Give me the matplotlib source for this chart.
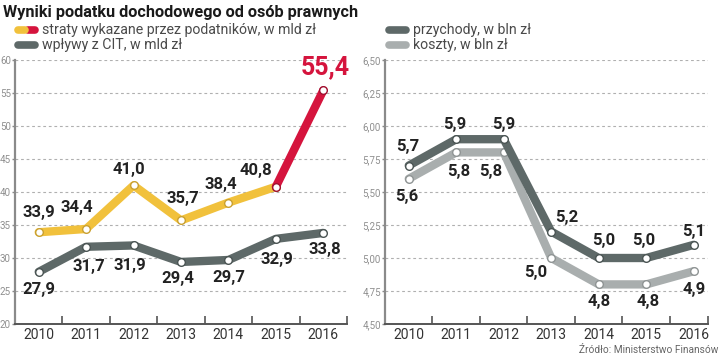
import numpy as np
import matplotlib.pyplot as plt
from matplotlib.lines import Line2D

years = [2010, 2011, 2012, 2013, 2014, 2015, 2016]
straty = [33.9, 34.4, 41.0, 35.7, 38.4, 40.8, 55.4]
wplywy = [27.9, 31.7, 31.9, 29.4, 29.7, 32.9, 33.8]
przychody = [5.7, 5.9, 5.9, 5.2, 5.0, 5.0, 5.1]
koszty = [5.6, 5.8, 5.8, 5.0, 4.8, 4.8, 4.9]

left_ticks = [20, 25, 30, 35, 40, 45, 50, 55, 60]
right_ticks = [4.50, 4.75, 5.00, 5.25, 5.50, 5.75, 6.00, 6.25, 6.50]

title = "Wyniki podatku dochodowego od osób prawnych"
leg_left = ["straty wykazane przez podatników, w mld zł", "wpływy z CIT, w mld zł"]
leg_right = ["przychody, w bln zł", "koszty, w bln zł"]
source = "Źródło: Ministerstwo Finansów"

YELLOW = "#f1c13c"
RED = "#d5143d"
DARK = "#5e6968"
LIGHT = "#a9aeae"
FONT = ["Roboto", "DejaVu Sans"]

# label offsets in pixels (dx, dy)
off_straty = [(0, 20), (-9, 21), (-5, 16), (2, 22), (-8, 18), (-20, 16), (2, 23)]
off_wplywy = [(0, -18), (3, -20), (-4, -20), (-3, -17), (0, -18), (1, -21), (2, -17)]
off_przych = [(-1, 19), (-1, 15), (0, 15), (16, 14), (5, 17), (-3, 17), (0, 13)]
off_koszty = [(-2, -18), (2, -19), (-13, -19), (-16, -15), (0, -17), (2, -17), (0, -18)]

W, H = 720, 357
fig = plt.figure(figsize=(W / 100, H / 100), dpi=100)


def fx(px):
    return px / W


def fy(py):
    return 1 - py / H


ax1 = fig.add_axes([fx(15), fy(324), fx(332), (324 - 60) / H])
ax2 = fig.add_axes([fx(385), fy(324), fx(323), (324 - 60) / H])


def style(ax, ticks, xmax, fmt):
    ax.set_xlim(2009.5, xmax)
    ax.set_ylim(ticks[0], ticks[-1])
    ax.set_yticks(ticks)
    ax.set_yticklabels([fmt(t) for t in ticks])
    ax.set_xticks(years)
    ax.set_xticklabels([str(y) for y in years])
    ax.set_xticks([y + 0.5 for y in years[:-1]] + [xmax], minor=True)
    ax.tick_params(axis="x", which="major", length=0, pad=3, labelsize=10, labelcolor="#333333")
    ax.tick_params(axis="x", which="minor", direction="in", length=6, width=1.2, color="#555555")
    ax.tick_params(axis="y", length=2, width=1, color="#888888", pad=1,
                   labelsize=7, labelcolor="#8f8f8f")
    for s in ["top", "right"]:
        ax.spines[s].set_visible(False)
    ax.spines["left"].set_color("#8a8a8a")
    ax.spines["left"].set_linewidth(1.6)
    ax.spines["bottom"].set_color("#555555")
    ax.spines["bottom"].set_linewidth(1.4)
    for t in ticks[1:]:
        ax.axhline(t, color="#b0b0b0", lw=0.8, ls=(0, (2.5, 2.5)), zorder=0)
    for lab in ax.get_xticklabels() + ax.get_yticklabels():
        lab.set_family(FONT)
    ax.patch.set_alpha(0)


style(ax1, left_ticks, 2016.5, lambda t: f"{t:d}")
style(ax2, right_ticks, 2016.3, lambda t: f"{t:.2f}".replace(".", ","))

line_kw = dict(lw=6, solid_capstyle="round", solid_joinstyle="round", marker="o",
               markersize=5.5, markerfacecolor="white", markeredgewidth=1, clip_on=False)

ax1.plot(years[:-1], straty[:-1], color=YELLOW, markeredgecolor="#c9a030", zorder=3, **line_kw)
ax1.plot(years[-2:], straty[-2:], color=RED, markeredgecolor="#a01030", zorder=4, **line_kw)
ax1.plot(years, wplywy, color=DARK, markeredgecolor="#4a5453", zorder=3, **line_kw)
ax2.plot(years, koszty, color=LIGHT, markeredgecolor="#8f9494", zorder=3, **line_kw)
ax2.plot(years, przychody, color=DARK, markeredgecolor="#4a5453", zorder=4, **line_kw)


def fmt1(v):
    return f"{v:.1f}".replace(".", ",")


def labels(ax, vals, offs, big_last=False):
    for i, (x, v) in enumerate(zip(years, vals)):
        dx, dy = offs[i]
        big = big_last and i == len(vals) - 1
        ax.annotate(fmt1(v), (x, v), xytext=(dx * 0.72, dy * 0.72), textcoords="offset points",
                    ha="center", va="center", family=FONT, weight="bold",
                    fontsize=18 if big else 12, color=RED if big else "#222222",
                    annotation_clip=False, zorder=6)


labels(ax1, straty, off_straty, big_last=True)
labels(ax1, wplywy, off_wplywy)
labels(ax2, przychody, off_przych)
labels(ax2, koszty, off_koszty)

# title, legends, source
fig.text(fx(3), fy(12), title, family=FONT, weight="bold", fontsize=11.7,
         color="#1a1a1a", ha="left", va="center")


def pill(x0, x1, y, color):
    fig.add_artist(Line2D([fx(x0), fx(x1)], [fy(y), fy(y)], lw=5.5, color=color,
                          solid_capstyle="round", transform=fig.transFigure))


pill(28, 35, 30, RED)
pill(18, 25, 30, YELLOW)
pill(18, 35, 45, DARK)
pill(389, 406, 30, DARK)
pill(389, 406, 45, LIGHT)

for i, t in enumerate(leg_left):
    fig.text(fx(42), fy(30 + 15 * i), t, fontsize=10.2, family=FONT,
             color="#4a4a4a", ha="left", va="center")
for i, t in enumerate(leg_right):
    fig.text(fx(413), fy(30 + 15 * i), t, fontsize=10.2, family=FONT,
             color="#4a4a4a", ha="left", va="center")

fig.text(fx(718), fy(350), source, fontsize=7.3, family=FONT, color="#666666",
         ha="right", va="center")

fig.savefig("out.png", dpi=100)
